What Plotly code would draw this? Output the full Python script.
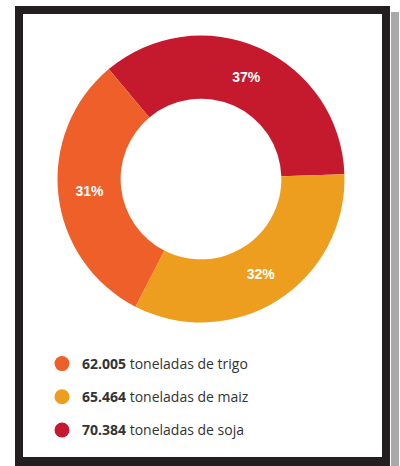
import plotly.graph_objects as go

# datos del gráfico
cultivos = ["trigo", "maiz", "soja"]
toneladas = [62.005, 65.464, 70.384]  # miles de toneladas
toneladas_txt = ["62.005", "65.464", "70.384"]
porcentajes = ["31%", "32%", "37%"]
colores = ["#EF5F2A", "#EE9E1E", "#C51A2E"]

W, H = 400, 466

fig = go.Figure()

# anillo: en sentido horario soja -> maiz -> trigo
fig.add_trace(go.Pie(
    labels=cultivos[::-1],
    values=toneladas[::-1],
    text=porcentajes[::-1],
    textinfo="text",
    textposition="inside",
    insidetextorientation="horizontal",
    textfont=dict(family="Liberation Sans", size=14, color="white", weight="bold"),
    marker=dict(colors=colores[::-1], line=dict(width=0)),
    hole=0.56,
    sort=False,
    direction="clockwise",
    rotation=-40,
    showlegend=False,
    hoverinfo="label+value",
    domain=dict(x=[57.5 / W, 344.5 / W], y=[1 - 322.5 / H, 1 - 35.5 / H]),
))

# leyenda con círculos
for nombre, num, col in zip(cultivos, toneladas_txt, colores):
    fig.add_trace(go.Scatter(
        x=[None], y=[None], mode="markers",
        marker=dict(symbol="circle", size=15, color=col),
        name=f"<b>{num}</b> toneladas de {nombre}",
        legendgroup=nombre,
    ))

fig.update_layout(
    width=W, height=H,
    margin=dict(l=0, r=0, t=0, b=0),
    paper_bgcolor="white",
    plot_bgcolor="white",
    xaxis=dict(visible=False),
    yaxis=dict(visible=False),
    legend=dict(
        x=42 / W, xanchor="left",
        y=1 - 348 / H, yanchor="top",
        traceorder="grouped", tracegroupgap=12,
        font=dict(family="Open Sans", size=14, color="#333333"),
        bgcolor="rgba(0,0,0,0)",
        itemclick=False, itemdoubleclick=False,
    ),
    shapes=[
        # marco negro (cuatro bandas)
        dict(type="rect", xref="paper", yref="paper", x0=15 / W, x1=390 / W,
             y0=1 - 6 / H, y1=1 - 14 / H, line=dict(width=0), fillcolor="#231F20"),
        dict(type="rect", xref="paper", yref="paper", x0=15 / W, x1=390 / W,
             y0=1 - 457 / H, y1=0, line=dict(width=0), fillcolor="#231F20"),
        dict(type="rect", xref="paper", yref="paper", x0=15 / W, x1=23 / W,
             y0=1 - 6 / H, y1=0, line=dict(width=0), fillcolor="#231F20"),
        dict(type="rect", xref="paper", yref="paper", x0=382 / W, x1=390 / W,
             y0=1 - 6 / H, y1=0, line=dict(width=0), fillcolor="#231F20"),
        # franja gris a la derecha
        dict(type="rect", xref="paper", yref="paper", x0=391 / W, x1=399 / W,
             y0=1 - 12 / H, y1=0, line=dict(width=0), fillcolor="#A9A9A9"),
    ],
)

fig.write_html(
    "out.html",
    config={"displayModeBar": False},
    post_script="document.body.style.margin='0';document.body.style.overflow='hidden';",
)
